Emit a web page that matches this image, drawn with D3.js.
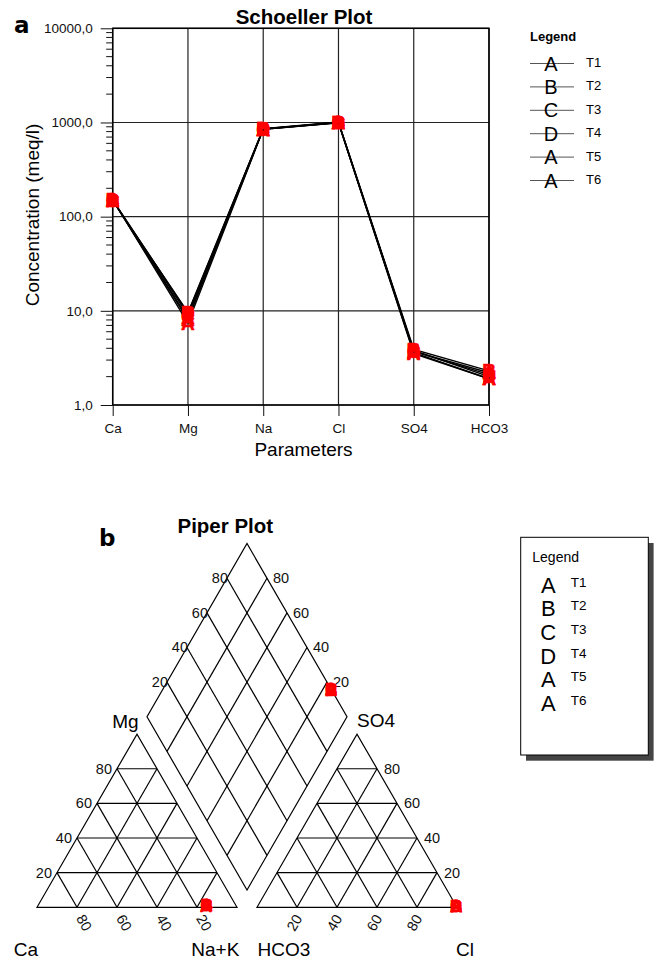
<!DOCTYPE html>
<html><head><meta charset="utf-8">
<script src="https://cdn.jsdelivr.net/npm/d3@7"></script>
<style>
body{margin:0;background:#fff;}
svg{display:block;font-family:"Liberation Sans",Arial,sans-serif;}
</style></head><body>
<svg id="c" width="659" height="960"></svg>
<script>
// ---------- data ----------
const params = ["Ca", "Mg", "Na", "Cl", "SO4", "HCO3"];
const samples = ["T1", "T2", "T3", "T4", "T5", "T6"];
const markers = ["A", "B", "C", "D", "A", "A"];
const T1 = [152, 7.4, 845, 990, 3.6, 1.9];
const T2 = [148, 9.6, 860, 1010, 3.9, 2.3];
const T3 = [150, 9.0, 850, 1000, 3.7, 2.1];
const T4 = [151, 9.4, 855, 1005, 3.8, 2.0];
const T5 = [149, 8.4, 848, 995, 3.5, 1.9];
const T6 = [150, 8.0, 852, 1000, 3.7, 2.2];
const seriesValues = [T1, T2, T3, T4, T5, T6];
const yTickValues = [1, 10, 100, 1000, 10000];
const piperTicks = [20, 40, 60, 80];

const svg = d3.select("#c");
const F = '"Liberation Sans",Arial,sans-serif';

// ---------- Schoeller plot ----------
const L = 112.7, R = 489, T = 28.3, B = 405;
const x = d3.scalePoint().domain(params).range([L, R]).padding(0);
const y = d3.scaleLog().domain([1, 10000]).range([B, T]);
const gS = svg.append("g");

// grid
gS.selectAll(".hg").data(yTickValues).join("line")
  .attr("x1", L).attr("x2", R).attr("y1", d => y(d)).attr("y2", d => y(d))
  .attr("stroke", "#222").attr("stroke-width", 1.2);
gS.selectAll(".vg").data(params).join("line")
  .attr("x1", d => x(d)).attr("x2", d => x(d)).attr("y1", T).attr("y2", B)
  .attr("stroke", "#222").attr("stroke-width", 1.2);
gS.append("rect").attr("x", L).attr("y", T).attr("width", R - L).attr("height", B - T)
  .attr("fill", "none").attr("stroke", "#000").attr("stroke-width", 1.5);

// y axis
const fmt = d => d3.format(".1f")(d).replace(".", ",");
const ya = gS.append("g").attr("transform", `translate(${L},0)`)
  .call(d3.axisLeft(y).tickValues(yTickValues).tickSize(12).tickSizeOuter(0).tickPadding(8).tickFormat(fmt));
ya.select(".domain").remove();
ya.selectAll("text").attr("font-size", 13.5).attr("font-family", F).attr("fill", "#111");
ya.selectAll("line").attr("stroke", "#111");
const minor = y.ticks().filter(d => !yTickValues.includes(d));
gS.selectAll(".mt").data(minor).join("line")
  .attr("x1", L - 6.5).attr("x2", L).attr("y1", d => y(d)).attr("y2", d => y(d))
  .attr("stroke", "#111").attr("stroke-width", 1);

// x axis
const xa = gS.append("g").attr("transform", `translate(0,${B})`)
  .call(d3.axisBottom(x).tickSize(11).tickSizeOuter(0).tickPadding(7));
xa.select(".domain").remove();
xa.selectAll("text").attr("font-size", 13.5).attr("font-family", F).attr("fill", "#111");
xa.selectAll("line").attr("stroke", "#111");

// titles
svg.append("text").attr("x", 304).attr("y", 24).attr("text-anchor", "middle")
  .attr("font-size", 20.5).attr("font-weight", "bold").text("Schoeller Plot");
svg.append("text").attr("x", 303.5).attr("y", 456).attr("text-anchor", "middle")
  .attr("font-size", 19).text("Parameters");
svg.append("text").attr("transform", "translate(39,215) rotate(-90)").attr("text-anchor", "middle")
  .attr("font-size", 19).text("Concentration (meq/l)");
svg.append("text").attr("x", 14).attr("y", 33.3).attr("font-family", '"DejaVu Sans",sans-serif')
  .attr("font-size", 23).attr("font-weight", "bold").text("a");

// lines
const line = d3.line().x((d, i) => x(params[i])).y(d => y(d));
gS.selectAll(".sl").data(seriesValues).join("path")
  .attr("d", line).attr("fill", "none").attr("stroke", "#000").attr("stroke-width", 1.4);

// markers
seriesValues.forEach((vals, si) => {
  gS.selectAll(".mk" + si).data(vals).join("text")
    .attr("x", (d, i) => x(params[i])).attr("y", d => y(d))
    .attr("text-anchor", "middle").attr("dominant-baseline", "central")
    .attr("font-size", 19).attr("font-weight", "bold")
    .attr("fill", "#ff0000").attr("stroke", "#ff0000").attr("stroke-width", 0.5)
    .text(markers[si]);
});

// legend (Schoeller)
svg.append("text").attr("x", 530).attr("y", 41).attr("font-size", 13).attr("font-weight", "bold").text("Legend");
const lg = svg.append("g");
samples.forEach((s, i) => {
  const yy = 63.5 + i * 23.4;
  lg.append("line").attr("x1", 530).attr("x2", 574).attr("y1", yy).attr("y2", yy)
    .attr("stroke", "#555").attr("stroke-width", 1);
  lg.append("text").attr("x", 551).attr("y", yy).attr("text-anchor", "middle")
    .attr("dominant-baseline", "central").attr("font-size", 20).text(markers[i]);
  lg.append("text").attr("x", 586).attr("y", yy - 1).attr("dominant-baseline", "central")
    .attr("font-size", 13).text(s);
});

// ---------- Piper plot ----------
const s = 200, gap = 20, x0 = 37, yb = 907.3, h = Math.sqrt(3) / 2;
const len = d3.scaleLinear().domain([0, 1]).range([0, s]);
const xr0 = x0 + s + gap;
function tri(xo, r, t) { return [xo + len(r + t / 2), yb - len(t) * h]; }
const bx = x0 + s + gap / 2, by = yb - gap * h;
function dia(u, v) { return [bx + len(0.5 * (v - u)), by - len(h * (u + v))]; }
const gP = svg.append("g").attr("stroke", "#000").attr("stroke-width", 1.2).attr("fill", "none");
const pl = pts => "M" + pts.map(p => p.join(",")).join("L");
const ks = piperTicks.map(d => d / 100);
[x0, xr0].forEach(xo => {
  gP.append("path").attr("d", pl([tri(xo, 0, 0), tri(xo, 1, 0), tri(xo, 0, 1)]) + "Z");
  ks.forEach(k => {
    gP.append("path").attr("d", pl([tri(xo, 0, k), tri(xo, 1 - k, k)]));
    gP.append("path").attr("d", pl([tri(xo, k, 0), tri(xo, k, 1 - k)]));
    gP.append("path").attr("d", pl([tri(xo, 1 - k, 0), tri(xo, 0, 1 - k)]));
  });
});
gP.append("path").attr("d", pl([dia(0, 0), dia(1, 0), dia(1, 1), dia(0, 1)]) + "Z");
ks.forEach(k => {
  gP.append("path").attr("d", pl([dia(k, 0), dia(k, 1)]));
  gP.append("path").attr("d", pl([dia(0, k), dia(1, k)]));
});

// tick labels
const tl = svg.append("g").attr("font-size", 14.5).attr("fill", "#111");
piperTicks.forEach(v => {
  const k = v / 100;
  let p = tri(x0, 0, k);
  tl.append("text").attr("x", p[0] - 5).attr("y", p[1]).attr("text-anchor", "end").attr("dominant-baseline", "central").text(v);
  p = tri(xr0, 1 - k, k);
  tl.append("text").attr("x", p[0] + 7).attr("y", p[1]).attr("dominant-baseline", "central").text(v);
  p = tri(x0, 1 - k, 0);
  tl.append("text").attr("transform", `translate(${p[0] + 7},${p[1] + 15.5}) rotate(60)`)
    .attr("text-anchor", "middle").attr("dominant-baseline", "central").text(v);
  p = tri(xr0, k, 0);
  tl.append("text").attr("transform", `translate(${p[0] - 2.5},${p[1] + 15.5}) rotate(-60)`)
    .attr("text-anchor", "middle").attr("dominant-baseline", "central").text(v);
  p = dia(1, k);
  tl.append("text").attr("x", p[0] + 1).attr("y", p[1]).attr("text-anchor", "end").attr("dominant-baseline", "central").text(v);
  p = dia(k, 1);
  tl.append("text").attr("x", p[0] + 6).attr("y", p[1]).attr("dominant-baseline", "central").text(v);
});

// axis labels
const al = svg.append("g").attr("font-size", 19).attr("text-anchor", "middle").attr("dominant-baseline", "central");
[["Mg", 125.5, 721.7], ["SO4", 376, 720.7], ["Ca", 26, 949], ["Na+K", 215.3, 949], ["HCO3", 284, 949], ["Cl", 465, 949]]
  .forEach(([t, xx, yy]) => al.append("text").attr("x", xx).attr("y", yy).text(t));
svg.append("text").attr("x", 225.3).attr("y", 533).attr("text-anchor", "middle")
  .attr("font-size", 20.5).attr("font-weight", "bold").text("Piper Plot");
svg.append("text").attr("x", 99).attr("y", 545.7).attr("font-family", '"DejaVu Sans",sans-serif')
  .attr("font-size", 23).attr("font-weight", "bold").text("b");

// piper points (from the same meq/l values)
const gM = svg.append("g").attr("font-size", 17).attr("font-weight", "bold").attr("fill", "#ff0000")
  .attr("stroke", "#ff0000").attr("stroke-width", 0.3).attr("text-anchor", "middle").attr("dominant-baseline", "central");
seriesValues.forEach((v, i) => {
  const cat = v[0] + v[1] + v[2], an = v[3] + v[4] + v[5];
  const nak = v[2] / cat, mg = v[1] / cat;
  const cl = v[3] / an, so4 = v[4] / an, hco3 = v[5] / an;
  const pts = [tri(x0, nak, mg), tri(xr0, cl, so4), dia(1 - nak, 1 - hco3)];
  pts.forEach(p => gM.append("text").attr("x", p[0]).attr("y", p[1]).text(markers[i]));
});

// piper legend
svg.append("rect").attr("x", 526).attr("y", 543).attr("width", 127.6).attr("height", 217.7).attr("fill", "#444");
svg.append("rect").attr("x", 520.7).attr("y", 537.3).attr("width", 127.6).attr("height", 217.7)
  .attr("fill", "#fff").attr("stroke", "#000").attr("stroke-width", 1);
svg.append("text").attr("x", 532.3).attr("y", 557.3).attr("dominant-baseline", "central").attr("font-size", 14).text("Legend");
samples.forEach((sm, i) => {
  const yy = 585 + i * 23.7;
  svg.append("text").attr("x", 548.3).attr("y", yy).attr("text-anchor", "middle").attr("dominant-baseline", "central")
    .attr("font-size", 22).text(markers[i]);
  svg.append("text").attr("x", 570.7).attr("y", yy - 3).attr("dominant-baseline", "central")
    .attr("font-size", 13.5).text(sm);
});
</script>
</body></html>
